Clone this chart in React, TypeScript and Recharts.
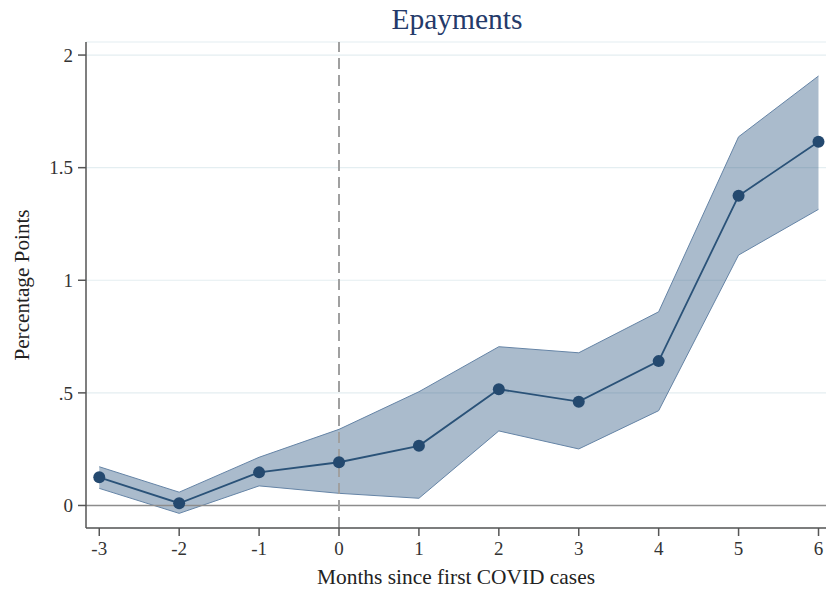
import {
  ComposedChart, Area, Line, XAxis, YAxis, CartesianGrid, ReferenceLine, Label,
} from 'recharts'

// event-study estimates with 95% CI, months relative to first COVID cases
const months = [-3, -2, -1, 0, 1, 2, 3, 4, 5, 6]
const estimate = [0.125, 0.01, 0.147, 0.192, 0.265, 0.516, 0.461, 0.641, 1.375, 1.615]
const ciLower = [0.076, -0.035, 0.087, 0.054, 0.032, 0.331, 0.251, 0.421, 1.112, 1.315]
const ciUpper = [0.172, 0.059, 0.214, 0.338, 0.505, 0.705, 0.678, 0.86, 1.637, 1.907]

const yTicks = [0, 0.5, 1, 1.5, 2]
const yTickLabels = ['0', '.5', '1', '1.5', '2']

const FONT = '"Liberation Serif", "Times New Roman", serif'
const W = 827
const H = 589

const data = months.map((m, i) => ({
  month: m,
  est: estimate[i],
  ci: [ciLower[i], ciUpper[i]],
}))

function YTitle(props: any) {
  const vb = props.viewBox || { x: 0, y: 0, width: 86, height: 486 }
  const cx = vb.x + 22
  const cy = vb.y + vb.height / 2
  return (
    <text
      x={cx} y={cy}
      transform={`rotate(-90 ${cx} ${cy})`}
      textAnchor="middle"
      dominantBaseline="central"
      fontFamily={FONT}
      fontSize={21.2}
      fill="#222"
    >
      Percentage Points
    </text>
  )
}

export default function App() {
  const tickStyle = { fontFamily: FONT, fontSize: 19, fill: '#333' }
  return (
    <div style={{ position: 'absolute', left: 0, top: 0, width: W, height: H, background: '#fff' }}>
      <ComposedChart width={W} height={H} data={data} margin={{ top: 42, right: 1, bottom: 0, left: 0 }}>
        <CartesianGrid vertical={false} stroke="#e4eef1" strokeWidth={1.2} />
        <XAxis
          dataKey="month"
          type="number"
          domain={[-3.166, 6.094]}
          ticks={months}
          allowDataOverflow
          height={61}
          tickSize={8}
          tickMargin={6}
          tick={tickStyle}
          stroke="#555"
          strokeWidth={1.5}
        >
          <Label
            value="Months since first COVID cases"
            position="insideBottom"
            offset={5}
            style={{ fontFamily: FONT, fontSize: 21.4, fill: '#222' }}
          />
        </XAxis>
        <YAxis
          type="number"
          domain={[-0.1, 2.058]}
          ticks={yTicks}
          allowDataOverflow
          width={86}
          tickSize={8}
          tickMargin={5}
          tick={tickStyle}
          tickFormatter={(v: number) => yTickLabels[yTicks.indexOf(v)] ?? String(v)}
          stroke="#555"
          strokeWidth={1.5}
        >
          <Label content={YTitle} />
        </YAxis>
        <ReferenceLine y={0} stroke="#8c8c8c" strokeWidth={1.5} />
        <ReferenceLine x={0} stroke="#a0a0a0" strokeWidth={2} strokeDasharray="11 6" />
        <Area
          type="linear"
          dataKey="ci"
          fill="#2b5680"
          fillOpacity={0.4}
          stroke="#6584a6"
          strokeWidth={1}
          isAnimationActive={false}
        />
        <Line
          type="linear"
          dataKey="est"
          stroke="#2a5278"
          strokeWidth={1.8}
          dot={{ r: 6, fill: '#24496f', stroke: '#24496f', strokeWidth: 0 }}
          activeDot={false}
          isAnimationActive={false}
        />
      </ComposedChart>
      <svg width={W} height={40} style={{ position: 'absolute', left: 0, top: 0 }}>
        <text x={457} y={29} textAnchor="middle" fontFamily={FONT} fontSize={29.5} fill="#243a6a">
          Epayments
        </text>
      </svg>
    </div>
  )
}
